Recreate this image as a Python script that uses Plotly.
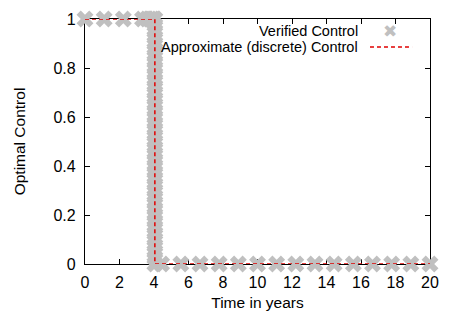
import plotly.graph_objects as go

# Verified control samples (time in years, control value)
verified_t = [0.0, 1.111, 2.222, 3.333, 3.6, 3.75, 3.9, 4.0,
              4.444, 5.556, 6.667, 7.778, 8.889, 10.0, 11.111, 12.222, 13.333,
              14.444, 15.556, 16.667, 17.778, 18.889, 20.0]
verified_u = [1, 1, 1, 1, 1, 1, 1, 1,
              0, 0, 0, 0, 0, 0, 0, 0, 0,
              0, 0, 0, 0, 0, 0]

# Dense verified samples at the switching instant
switch_time = 4.05
switch_u = [1.0, 0.975, 0.95, 0.925, 0.9, 0.875, 0.85, 0.825, 0.8, 0.775,
            0.75, 0.725, 0.7, 0.675, 0.65, 0.625, 0.6, 0.575, 0.55, 0.525,
            0.5, 0.475, 0.45, 0.425, 0.4, 0.375, 0.35, 0.325, 0.3, 0.275,
            0.25, 0.225, 0.2, 0.175, 0.15, 0.125, 0.1, 0.075, 0.05, 0.025, 0.0]

# Approximate (discrete) control: bang-bang step
approx_t = [0.0, 4.05, 4.05, 20.0]
approx_u = [1, 1, 0, 0]

x_ticks = [0, 2, 4, 6, 8, 10, 12, 14, 16, 18, 20]
y_ticks = [0, 0.2, 0.4, 0.6, 0.8, 1]
y_tick_text = ["0", "0.2", "0.4", "0.6", "0.8", "1"]

GRAY = "#c0c0c0"
RED = "#e00000"
FONT = "Liberation Sans, Arial, sans-serif"

fig = go.Figure()
marker = dict(symbol="x", size=15, color=GRAY, line=dict(width=0))
fig.add_trace(go.Scatter(x=verified_t, y=verified_u, mode="markers",
                         marker=marker, cliponaxis=False, showlegend=False))
fig.add_trace(go.Scatter(x=[switch_time] * len(switch_u), y=switch_u, mode="markers",
                         marker=marker, cliponaxis=False, showlegend=False))
fig.add_trace(go.Scatter(x=approx_t, y=approx_u, mode="lines",
                         line=dict(color=RED, width=1.5, dash="4px,3px"),
                         cliponaxis=False, showlegend=False))

axis_common = dict(showgrid=False, zeroline=False, showline=True, linecolor="black",
                   linewidth=1.2, mirror="allticks", ticks="inside", ticklen=5,
                   tickcolor="black", layer="below traces", automargin=False,
                   tickfont=dict(family=FONT, size=16, color="black"))
fig.update_xaxes(range=[0, 20], tickvals=x_ticks, ticklabelstandoff=4,
                 title=dict(text="Time in years", font=dict(family=FONT, size=15.5, color="black"),
                            standoff=6),
                 **axis_common)
fig.update_yaxes(range=[0, 1], tickvals=y_ticks, ticktext=y_tick_text, ticklabelstandoff=5,
                 title=dict(text="Optimal Control", font=dict(family=FONT, size=15.5, color="black"),
                            standoff=24),
                 **axis_common)

# Gnuplot-style legend: right-aligned text, sample on the right
fig.add_annotation(xref="paper", yref="paper", x=0.797, y=0.951, xanchor="right", yanchor="middle",
                   text="Verified Control", showarrow=False,
                   font=dict(family=FONT, size=14.5, color="black"))
fig.add_annotation(xref="paper", yref="paper", x=0.797, y=0.886, xanchor="right", yanchor="middle",
                   text="Approximate (discrete) Control", showarrow=False,
                   font=dict(family=FONT, size=14.5, color="black"))
fig.add_annotation(xref="paper", yref="paper", x=0.884, y=0.951, xanchor="center", yanchor="middle",
                   text="\u2716", showarrow=False,
                   font=dict(family="DejaVu Sans", size=17, color=GRAY))
fig.add_shape(type="line", xref="paper", yref="paper", x0=0.826, x1=0.948, y0=0.886, y1=0.886,
              line=dict(color=RED, width=1.5, dash="4px,3px"))

fig.update_layout(width=453, height=318,
                  margin=dict(l=85, r=23, t=19, b=54),
                  paper_bgcolor="white", plot_bgcolor="white",
                  font=dict(family=FONT, size=15, color="black"))

fig.write_html("out.html", config={"displayModeBar": False},
               post_script="document.body.style.margin='0';")
